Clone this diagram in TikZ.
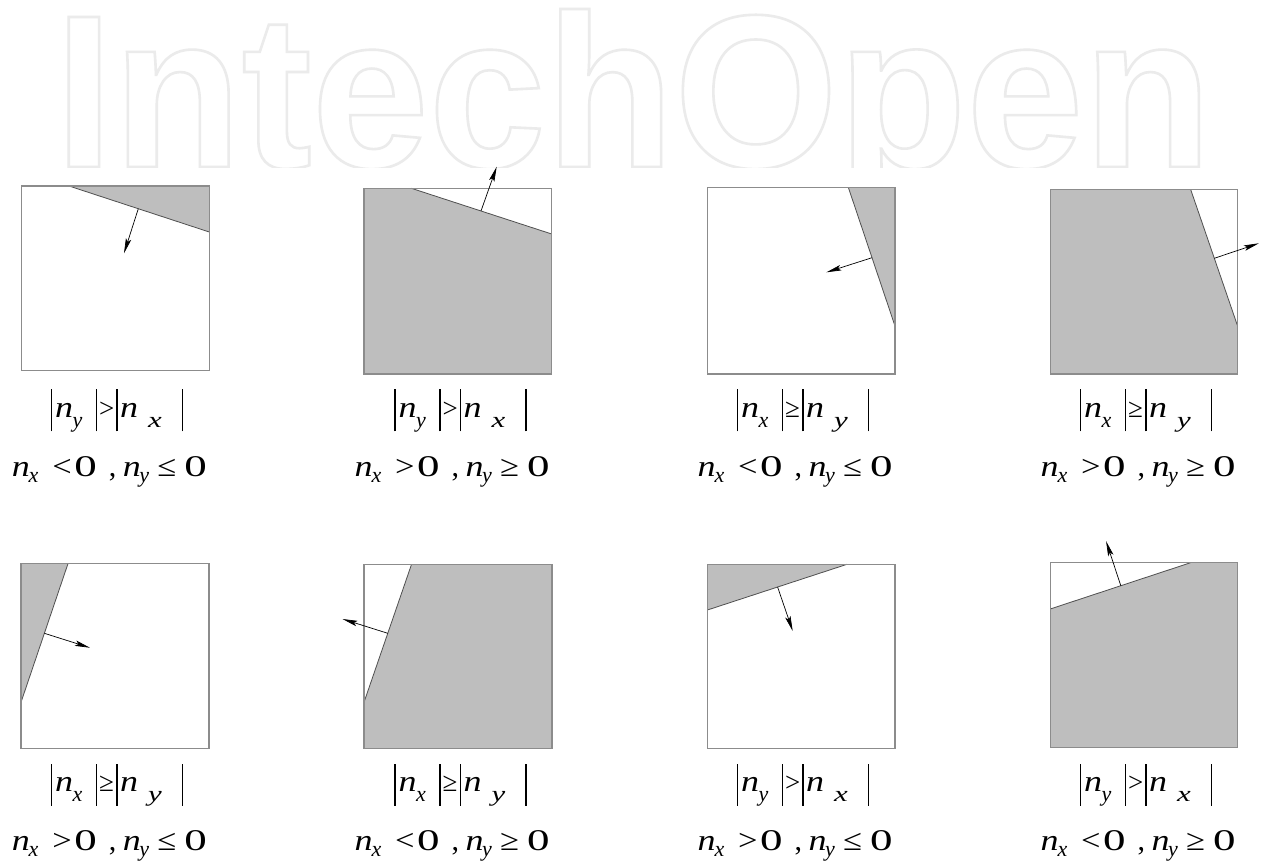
\documentclass[tikz,border=0pt]{standalone}
\usepackage{fontspec}
\usepackage{graphicx}
\setmainfont{Liberation Serif}
\newfontfamily\labfont{Liberation Serif}
\newfontfamily\wmfont{Liberation Sans Bold}[FakeStretch=0.965]
\usetikzlibrary{arrows.meta}
\definecolor{shadecol}{HTML}{BEBEBE}
\definecolor{wmcol}{HTML}{EBEBEB}
\definecolor{framecol}{HTML}{8C8C8C}
\definecolor{cutcol}{HTML}{505050}

\newcommand\pc[2]{\rlap{\hspace*{#1}#2}}
\newcommand\vb{\rule[-14pt]{1.3pt}{42pt}}
\newcommand\nI{\scalebox{1.2}[1]{\textit{n}}}
\newcommand\zero{\scalebox{1.5}[1]{0}}
\newcommand\sbA[1]{\raisebox{-10pt}{\fontsize{22}{22}\selectfont\textit{#1}}}
\newcommand\sbW[1]{\raisebox{-10pt}{\scalebox{1.4}[1]{\fontsize{22}{22}\selectfont\textit{#1}}}}
\newcommand\sbB[1]{\raisebox{-6pt}{\fontsize{22}{22}\selectfont\textit{#1}}}
\newcommand\relA[1]{{\fontsize{27}{27}\selectfont #1}}
\newcommand\relB[1]{\scalebox{1.15}[1]{#1}}
% first line: |n_#1| #2 |n_#3|
\newcommand\lineA[3]{\pc{0pt}{\vb}\pc{4.5pt}{\nI}\pc{22pt}{\sbA{#1}}\pc{45pt}{\vb}\pc{48.5pt}{\relA{#2}}\pc{65.5pt}{\vb}\pc{69.5pt}{\nI}\pc{97.5pt}{\sbW{#3}}\pc{131pt}{\vb}\hspace*{132.3pt}}
% second line: n_x #1 0 , n_y #2 0
\newcommand\lineB[2]{\pc{0pt}{\nI}\pc{16.8pt}{\sbB{x}}\pc{40.5pt}{\relB{#1}}\pc{62.5pt}{\zero}\pc{97pt}{,}\pc{111pt}{\nI}\pc{127.5pt}{\sbB{y}}\pc{145.5pt}{\relB{#2}}\pc{172.5pt}{\zero}\hspace*{195pt}}

\tikzset{
  frame/.style={draw=framecol, line width=1.2pt},
  shaded/.style={fill=shadecol},
  cutline/.style={draw=cutcol, line width=0.8pt},
  normal/.style={draw=black, line width=0.7pt, -{Stealth[length=15pt,width=5.5pt,inset=3pt]}},
  lab/.style={anchor=base west, inner sep=0pt, font=\labfont\fontsize{30}{36}\selectfont},
}

\begin{document}
\begin{tikzpicture}[x=1pt,y=-1pt]
\useasboundingbox (0,0) rectangle (1262,863);
\fill[white] (0,0) rectangle (1262,863);

% watermark (outlined letters)
\begin{scope}
\clip (0,0) rectangle (1262,167);
\node[anchor=base west, inner sep=0pt, text=wmcol] (wm) at (54.5,167)
  {\wmfont\fontsize{218}{218}\selectfont\special{pdf:literal direct 0.922 0.922 0.922 RG 1 Tr 2.6 w}IntechOpen\special{pdf:literal direct 0 Tr 1 w 0.922 0.922 0.922 RG}};
\end{scope}

% ---------- box 1 ----------
\fill[shaded] (69,186) -- (209.3,186) -- (209.3,232) -- cycle;
\draw[cutline] (69,186) -- (209.3,232);
\draw[frame] (21.7,186) rectangle (209.3,370.7);
\coordinate (a1s) at (138.3,208.7);
\coordinate (a1e) at (124,253.3);
\draw[normal] (a1s) -- (a1e);
\node[lab] (l1a) at (50.5,417.3) {\lineA{y}{>}{x}};
\node[lab] (l1b) at (11.7,476) {\lineB{<}{≤}};

% ---------- box 2 ----------
\fill[shaded] (364,188.3) -- (411.4,188.3) -- (551.7,234) -- (551.7,374) -- (364,374) -- cycle;
\draw[cutline] (411.4,188.3) -- (551.7,234);
\draw[frame] (364,188.3) rectangle (551.7,374);
\coordinate (a2s) at (481,211);
\coordinate (a2e) at (496.7,166.7);
\draw[normal] (a2s) -- (a2e);
\node[lab] (l2a) at (394,417.3) {\lineA{y}{>}{x}};
\node[lab] (l2b) at (354.5,476) {\lineB{>}{≥}};

% ---------- box 3 ----------
\fill[shaded] (848.3,187.3) -- (895,187.3) -- (895,326) -- cycle;
\draw[cutline] (848.3,187.3) -- (895,326);
\draw[frame] (707.4,187.3) rectangle (895,374);
\coordinate (a3s) at (872,257.7);
\coordinate (a3e) at (826.4,272.3);
\draw[normal] (a3s) -- (a3e);
\node[lab] (l3a) at (736.5,417.3) {\lineA{x}{≥}{y}};
\node[lab] (l3b) at (697.5,476) {\lineB{<}{≤}};

% ---------- box 4 ----------
\fill[shaded] (1050.2,189.3) -- (1190.6,189.3) -- (1237.6,326) -- (1237.6,374) -- (1050.2,374) -- cycle;
\draw[cutline] (1190.6,189.3) -- (1237.6,326);
\draw[frame] (1050.2,189.3) rectangle (1237.6,374);
\coordinate (a4s) at (1214.3,258.3);
\coordinate (a4e) at (1258.8,243.3);
\draw[normal] (a4s) -- (a4e);
\node[lab] (l4a) at (1079.5,417.3) {\lineA{x}{≥}{y}};
\node[lab] (l4b) at (1040.5,476) {\lineB{>}{≥}};

% ---------- box 5 ----------
\fill[shaded] (21,563.3) -- (68.1,563.3) -- (21,702.3) -- cycle;
\draw[cutline] (68.1,563.3) -- (21,702.3);
\draw[frame] (21,563.3) rectangle (209,748.7);
\coordinate (a5s) at (44.4,633.3);
\coordinate (a5e) at (89.9,647.7);
\draw[normal] (a5s) -- (a5e);
\node[lab] (l5a) at (50.5,791.7) {\lineA{x}{≥}{y}};
\node[lab] (l5b) at (11.7,850) {\lineB{>}{≤}};

% ---------- box 6 ----------
\fill[shaded] (411.4,564.7) -- (552,564.7) -- (552,748.7) -- (364,748.7) -- (364,702.3) -- cycle;
\draw[cutline] (411.4,564.7) -- (364,702.3);
\draw[frame] (364,564.7) rectangle (552,748.7);
\coordinate (a6s) at (387.8,633.3);
\coordinate (a6e) at (342.5,619);
\draw[normal] (a6s) -- (a6e);
\node[lab] (l6a) at (394,791.7) {\lineA{x}{≥}{y}};
\node[lab] (l6b) at (354.5,850) {\lineB{<}{≥}};

% ---------- box 7 ----------
\fill[shaded] (707.4,564.3) -- (847,564.3) -- (707.4,610) -- cycle;
\draw[cutline] (847,564.3) -- (707.4,610);
\draw[frame] (707.4,564.3) rectangle (895,748.7);
\coordinate (a7s) at (777.6,587);
\coordinate (a7e) at (792.7,631);
\draw[normal] (a7s) -- (a7e);
\node[lab] (l7a) at (736.5,791.7) {\lineA{y}{>}{x}};
\node[lab] (l7b) at (697.5,850) {\lineB{>}{≤}};

% ---------- box 8 ----------
\fill[shaded] (1050.2,609) -- (1190.6,562.7) -- (1237.8,562.7) -- (1237.8,747.3) -- (1050.2,747.3) -- cycle;
\draw[cutline] (1050.2,609) -- (1190.6,562.7);
\draw[frame] (1050.2,562.7) rectangle (1237.8,747.3);
\coordinate (a8s) at (1120.8,585.7);
\coordinate (a8e) at (1106.1,541.2);
\draw[normal] (a8s) -- (a8e);
\node[lab] (l8a) at (1079.5,791.7) {\lineA{y}{>}{x}};
\node[lab] (l8b) at (1040.5,850) {\lineB{<}{≥}};
\end{tikzpicture}
\end{document}
